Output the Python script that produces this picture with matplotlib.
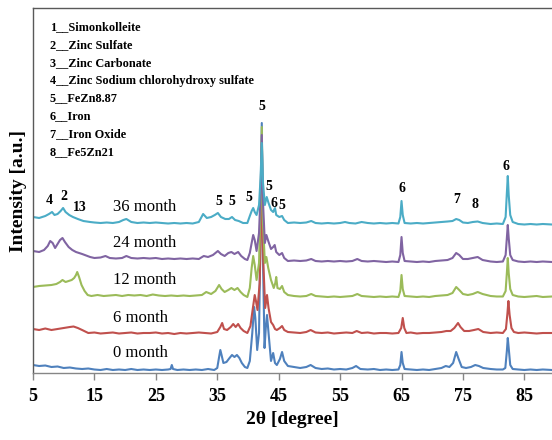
import matplotlib
matplotlib.use("Agg")
import matplotlib.pyplot as plt

plt.rcParams['font.family'] = ['Liberation Serif', 'DejaVu Serif']

# ---- data: (2theta, intensity a.u.) ----
month0 = [(5,8),(6,7),(7,7.5),(8,6),(9,6.5),(10,5),(11,5.5),(12,4.5),(13,4),(14,4.5),(15,3.5),(16,3),(17,4),(18,3),(19,3.5),(20,3),(21,4),(22,3),(23,3.5),(24,3),(25,3.5),(26,3),(27,3.5),(27.4,4),(27.6,8),(27.8,4),(28.5,3),(29.5,3.5),(30.5,3),(31.5,3.5),(32.5,3),(33.5,4),(34.5,3),(35.0,5),(35.3,16),(35.5,23),(35.7,18),(36.0,10),(36.5,11),(37.0,15),(37.4,18),(37.8,16),(38.2,18),(38.6,15),(39.0,10),(39.5,6),(39.9,5),(40.3,12),(40.7,40),(41.0,66),(41.2,55),(41.5,23),(41.8,40),(42.0,120),(42.25,250),(42.45,110),(42.7,25),(42.9,45),(43.1,58),(43.35,40),(43.75,12),(44.1,20),(44.4,10),(44.7,8),(45.2,14),(45.55,21),(45.9,12),(46.5,7),(47.5,6),(48.5,5),(49.5,6),(50.2,8),(51,5),(52,4),(53,4.5),(54,3.5),(55,4),(56,3.5),(57,5),(57.6,7),(58.3,4),(59.5,3.5),(60.5,4),(61.5,3),(62.5,3.5),(63.5,3),(64.5,3.5),(64.8,8),(65.0,21),(65.2,10),(65.5,4),(66.5,3.5),(67.5,3),(68.5,3.5),(69.5,3),(70.5,4),(71.5,5),(72.2,7),(72.8,6),(73.4,10),(73.9,21),(74.3,14),(74.8,6),(75.5,5),(76.3,6),(77.0,8),(77.6,7),(78.3,5),(79.5,4),(80.5,3.5),(81.5,3.5),(81.9,5),(82.15,22),(82.3,35),(82.45,25),(82.7,8),(83.1,4),(84,3.5),(85,3),(86,3.5),(87,3),(88,3.5),(89.5,3)]

month6 = [(5,44),(6,43),(7,44.5),(8,43),(9,44),(10,45),(11,46),(11.6,46.5),(12.3,45),(13,43),(14,40),(15,40.5),(16,39.5),(17,40),(18,40.5),(19,39.5),(20,40),(21,40.5),(22,39.5),(23,40),(24,40),(25,40.5),(26,39.5),(27,40),(28,39),(29,40),(30,39.5),(31,40),(32,40.5),(33,40),(34,39.5),(35,41),(35.5,46),(35.8,50),(36.1,44),(36.6,43),(37.2,46),(37.6,49),(38.0,46),(38.4,49),(38.8,45),(39.3,42),(39.9,40),(40.4,47),(40.8,65),(41.1,78),(41.3,72),(41.55,63),(41.9,90),(42.25,190),(42.5,110),(42.8,65),(43.1,78),(43.35,65),(43.75,51),(44.1,48),(44.4,44),(44.7,43),(45.2,45),(45.55,47),(45.9,43),(46.5,41),(47.5,40.5),(48.5,40),(49.5,41),(50.2,43),(51,40.5),(52,40),(53,40.5),(54,39.5),(55,40),(56,40.5),(57,40),(57.7,42),(58.5,40),(59.5,40.5),(60.5,39.5),(61.5,40),(62.5,40),(63.5,39.5),(64.5,40),(64.95,45),(65.2,55),(65.45,45),(65.8,40),(66.5,40.5),(67.5,39.5),(68.5,40),(69.5,40),(70.5,40.5),(71.5,41),(72.3,42),(73.0,42),(73.6,45),(74.2,50),(74.6,46),(75.2,42),(76,42),(76.8,43),(77.5,44),(78.3,41),(79.5,40),(80.5,40.5),(81.5,40),(82.0,44),(82.25,60),(82.4,72),(82.6,58),(82.9,45),(83.3,41),(84,40),(85,40.5),(86,40),(87,39.5),(88,40),(89.5,40)]

month12 = [(5,86),(6,87),(7,87.5),(8,88),(8.8,89),(9.4,91),(9.8,93),(10.3,91),(10.8,92),(11.3,93),(11.7,95),(12.0,98),(12.2,101),(12.5,96),(12.9,88),(13.4,82),(13.9,78),(14.5,77),(15.5,78),(16.5,77),(17.5,77.5),(18.5,78),(19.5,77),(20.5,78),(21.5,77.5),(22.5,78),(23.5,77),(24.5,78.5),(25.5,77.5),(26.5,77),(27.5,77.5),(28.5,77),(29.5,77.5),(30.5,77),(31.5,77.5),(32.5,78),(33.2,81),(34,79),(34.7,82),(35.3,88),(35.7,84),(36.2,81),(36.8,83),(37.3,85),(37.8,83),(38.3,85),(38.8,81),(39.3,78),(39.9,76),(40.3,85),(40.6,105),(40.85,117),(41.1,108),(41.4,93),(41.8,110),(42.05,170),(42.25,246),(42.45,150),(42.75,110),(43.0,116),(43.3,105),(43.75,93),(44.2,85),(44.45,90),(44.6,96),(44.8,85),(45.2,84),(45.55,87),(45.9,81),(46.5,78),(47.5,77),(48.5,76.5),(49.5,77),(50.3,79),(51,77),(52,76.5),(53,76),(54,76.5),(55,76),(56,76.5),(57,77),(57.8,79),(58.5,77),(59.5,76.5),(60.5,76),(61.5,76.5),(62.5,76),(63.5,76.5),(64.5,76),(64.8,82),(65.0,98),(65.2,84),(65.5,77),(66.5,76.5),(67.5,76),(68.5,76.5),(69.5,76),(70.5,77),(71.5,77.5),(72.5,78),(73.3,80),(73.9,86),(74.4,83),(75,79),(75.8,78),(76.6,79),(77.4,81),(78.2,79),(79.5,77),(80.5,76.5),(81.5,76.5),(81.95,82),(82.15,100),(82.3,115),(82.45,100),(82.7,84),(83.1,78),(84,76.5),(85,76),(86,76.5),(87,77),(88,76),(89.5,76.5)]

month24 = [(5,122),(6,121),(6.8,123),(7.4,127),(7.8,132),(8.2,130),(8.6,125),(9.0,129),(9.4,133),(9.8,135),(10.2,131),(10.8,126),(11.4,123),(12,121),(13,119),(14.3,116),(15,115),(16,115.5),(16.8,117),(17.5,115),(18.5,114.5),(19.5,115),(20.2,117),(21,115),(22,114.5),(23,115),(24,114.5),(25,115),(26,114),(27,114.5),(28,114),(29,114.5),(30,114),(31,114.5),(32,114),(32.8,117),(33.5,116),(34.3,118),(35.1,122),(35.6,119),(36.2,117),(36.8,120),(37.3,121),(37.8,119),(38.4,121),(38.9,117),(39.5,114),(39.9,113),(40.3,120),(40.6,130),(40.85,138),(41.1,133),(41.4,122),(41.8,140),(42.05,180),(42.25,238),(42.45,170),(42.75,130),(43.0,138),(43.3,132),(43.75,124),(44.1,126),(44.35,128),(44.6,121),(45.1,118),(45.55,120),(45.9,115),(46.5,112),(47.5,112.5),(48.5,112),(49.5,112.5),(50.3,114),(51,112),(52,111.5),(53,112),(54,111.5),(55,112),(56,111.5),(57,112),(57.8,114),(58.5,112),(59.5,111.5),(60.5,112),(61.5,111.5),(62.5,111),(63.5,111.5),(64.5,111),(64.8,118),(65.0,136),(65.2,120),(65.5,112),(66.5,111.5),(67.5,111),(68.5,111.5),(69.5,111),(70.5,112),(71.5,112.5),(72.5,113),(73.3,115),(73.9,120),(74.4,118),(75,114),(75.8,114),(76.6,115),(77.4,116),(78.2,113),(79.5,111.5),(80.5,111),(81.5,111.5),(81.95,118),(82.15,135),(82.3,148),(82.45,135),(82.7,118),(83.1,113),(84,111.5),(85,111),(86,111.5),(87,111),(88,111.5),(89.5,111)]

month36 = [(5,156),(6,155),(7,157),(7.6,159),(8.1,161),(8.5,158),(9.0,159),(9.5,162),(9.9,165),(10.3,161),(10.9,158),(11.5,156),(12.3,154),(13.2,152),(14.3,151),(15,150.5),(16,150),(17,150.5),(18,150),(19,151),(19.7,153),(20.2,154),(21,151),(22,150),(23,150.5),(24,150),(25,150.5),(26,150),(27,149.5),(28,150),(29,149.5),(30,150),(31,149.5),(32,151),(32.7,159),(33.3,155),(34,156),(34.6,158),(35.1,160),(35.6,156),(36.3,154),(36.9,154),(37.4,156),(37.9,153),(38.5,152),(39.2,150),(39.9,150),(40.3,157),(40.6,162),(40.85,165),(41.1,161),(41.4,158),(41.8,168),(42.05,195),(42.25,230),(42.45,190),(42.75,168),(43.05,176),(43.35,170),(43.75,163),(44.1,161),(44.4,165),(44.6,158),(45.1,156),(45.55,157),(45.9,153),(46.5,150),(47.5,150.5),(48.5,150),(49.5,150.5),(50.3,152),(51,150),(52,149.5),(53,150),(54,149.5),(55,150),(55.8,151),(56.5,150),(57.5,149.5),(58.5,151),(59.5,150),(60.5,149.5),(61.5,150),(62.5,149.5),(63.5,150),(64.5,149.5),(64.8,156),(65.0,172),(65.2,158),(65.5,150),(66.5,149.5),(67.5,150),(68.5,149.5),(69.5,150),(70.5,150.5),(71.5,151),(72.5,151.5),(73.3,152),(73.9,154),(74.4,153),(75,150.5),(75.8,150),(76.6,151),(77.4,151.5),(78.2,150),(79.5,149),(80.5,149.5),(81.5,149),(81.95,156),(82.15,180),(82.3,197),(82.45,178),(82.7,158),(83.1,151),(84,149),(85,148.5),(86,149),(87,148.5),(88,149),(89.5,148.5)]

series_labels = ["0 month", "6 month", "12 month", "24 month", "36 month"]
series_colors = ["#4F81BD", "#C0504D", "#9BBB59", "#8064A2", "#4BACC6"]
label_y = [20, 55, 93, 130, 166]

phase_list = ["1__Simonkolleite", "2__Zinc Sulfate", "3__Zinc Carbonate",
              "4__Zinc Sodium chlorohydroxy sulfate", "5__FeZn8.87", "6__Iron",
              "7__Iron Oxide", "8__Fe5Zn21"]

peak_marks = [("4", 7.7, 173), ("2", 10.0, 177), ("13", 12.6, 166),
              ("5", 35.2, 172), ("5", 37.3, 172), ("5", 40.2, 176),
              ("5", 42.2, 266), ("5", 43.4, 187), ("6", 44.3, 170), ("5", 45.6, 168),
              ("6", 65.0, 185), ("7", 74.0, 174), ("8", 76.9, 169), ("6", 82.0, 206)]

xticks = [5, 15, 25, 35, 45, 55, 65, 75, 85]

# ---- figure ----
fig = plt.figure(figsize=(5.52, 4.40), dpi=100)
ax = fig.add_axes([33/552, 1-373/440, 1-33/552, (373-8)/440])

for data, col in zip([month0, month6, month12, month24, month36], series_colors):
    xs = [p[0] for p in data]
    ys = [p[1] for p in data]
    ax.plot(xs, ys, color=col, lw=1.5, solid_joinstyle='round')

for lab, yy in zip(series_labels, label_y):
    ax.text(18.0, yy, lab, fontsize=12, ha='left', va='center')

for k, t in enumerate(phase_list):
    fig.text(50/552, 1-(27+k*17.9)/440, t, fontsize=8.8, fontweight='bold',
             ha='left', va='center')

for t, xx, yy in peak_marks:
    ax.text(xx, yy, t, fontsize=10, fontweight='bold', ha='center', va='center')

ax.set_xlim(5, 89.5)
ax.set_ylim(0, 365)
ax.set_yticks([])
ax.set_xticks(xticks)
ax.set_xticklabels([str(v) for v in xticks], fontsize=13, fontweight='bold')
ax.tick_params(axis='x', direction='out', length=5, width=1, color='#868686', pad=6)
ax.spines['bottom'].set_color('#868686')
ax.spines['left'].set_color('#595959')
ax.spines['top'].set_color('#595959')
ax.spines['right'].set_visible(False)
for s in ax.spines.values():
    s.set_linewidth(1.0)

ax.set_xlabel("2θ [degree]", fontsize=14, fontweight='bold', labelpad=4)
ax.set_ylabel("Intensity [a.u.]", fontsize=14, fontweight='bold', labelpad=4)

fig.savefig("out.png", dpi=100)
